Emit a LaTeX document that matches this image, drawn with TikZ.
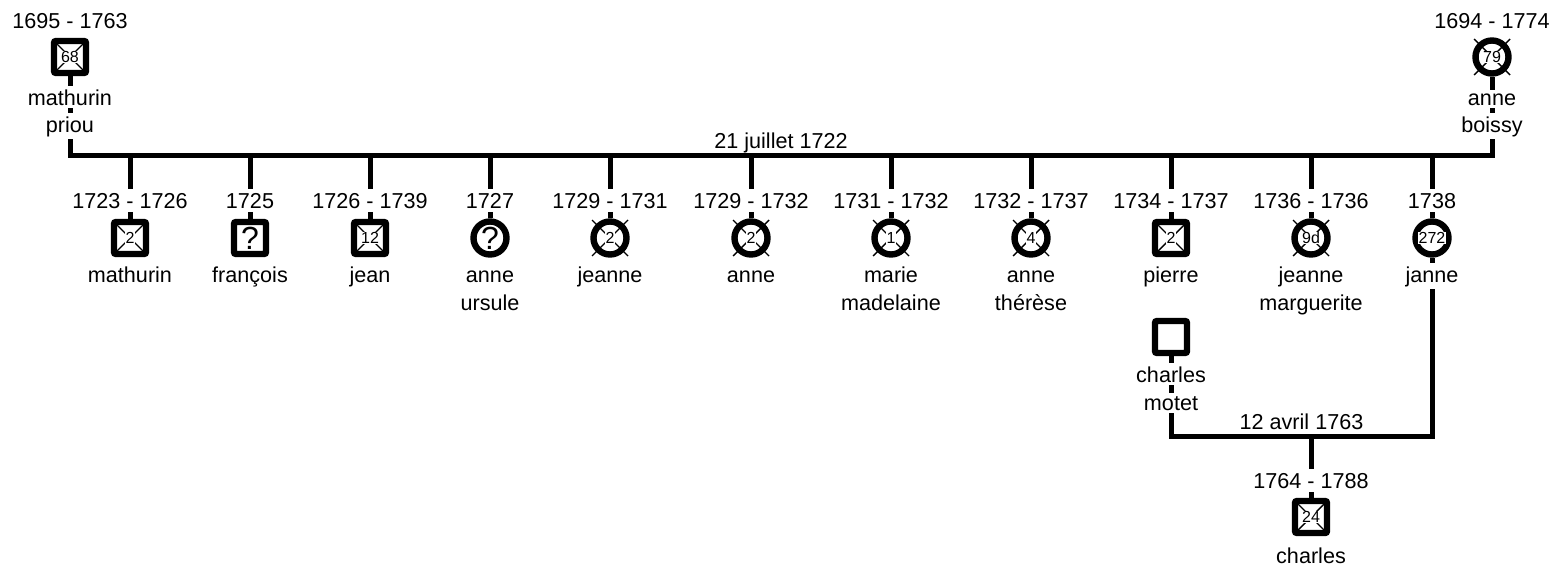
\documentclass[tikz,border=0pt]{standalone}
\usepackage{fontspec}
\setmainfont{Liberation Sans}
\usetikzlibrary{calc}
\pgfdeclarelayer{background}
\pgfsetlayers{background,main}

\begin{document}
\begin{tikzpicture}[x=0.5pt, y=-0.5pt,
    link/.style={line width=2.5pt},
    homem/.style={draw, line width=3.2pt, rectangle, rounded corners=1pt, minimum size=16pt, inner sep=0pt},
    mulher/.style={draw, line width=3.2pt, circle, minimum size=16.5pt, inner sep=0pt},
    idade/.style={fill=white, inner sep=0.3pt, font=\fontsize{8}{9}\selectfont},
    duvida/.style={inner sep=0pt, font=\fontsize{16}{17}\selectfont},
    cruz/.style={line width=0.7pt},
    ano/.style={fill=white, inner sep=2pt, anchor=base, font=\fontsize{10.8}{12}\selectfont},
    nome/.style={fill=white, inner sep=1.5pt, anchor=base, font=\fontsize{10.8}{12}\selectfont},
    uniao/.style={inner sep=0pt, anchor=base, font=\fontsize{10.8}{12}\selectfont}]

    \useasboundingbox (0,0) rectangle (1554,568);

    % --- PAIS (mathurin priou e anne boissy) ---
    \node[homem, label={[idade]center:68}] (p0) at (70,57) {};
    \node[mulher, label={[idade]center:79}] (p1) at (1492,57) {};

    % --- FILHOS DO PRIMEIRO CASAMENTO ---
    \node[homem, label={[idade]center:2}] (c1) at (130,238) {};
    \node[homem, label={[duvida]center:?}] (c2) at (250,238) {};
    \node[homem, label={[idade]center:12}] (c3) at (370,238) {};
    \node[mulher, label={[duvida]center:?}] (c4) at (490,238) {};
    \node[mulher, label={[idade]center:2}] (c5) at (610,238) {};
    \node[mulher, label={[idade]center:2}] (c6) at (751,238) {};
    \node[mulher, label={[idade]center:1}] (c7) at (891,238) {};
    \node[mulher, label={[idade]center:4}] (c8) at (1031,238) {};
    \node[homem, label={[idade]center:2}] (c9) at (1171,238) {};
    \node[mulher, label={[idade]center:9d}] (c10) at (1311,238) {};
    \node[mulher, label={[idade]center:272}] (c11) at (1432,238) {};

    % --- CONJUGE DE janne E FILHO ---
    \node[homem] (s1) at (1171,337) {};
    \node[homem, label={[idade]center:24}] (c12) at (1311,517) {};

    % Cruzes dos falecidos (atras dos simbolos)
    \begin{pgfonlayer}{background}
    \foreach \n in {p0,c1,c3,c9,c12}
        \draw[cruz] ($(\n)+(-16,-16)$) -- ($(\n)+(16,16)$) ($(\n)+(-16,16)$) -- ($(\n)+(16,-16)$);
    \foreach \n in {p1,c5,c6,c7,c8,c10}
        \draw[cruz] ($(\n)+(-18,-18)$) -- ($(\n)+(18,18)$) ($(\n)+(-18,18)$) -- ($(\n)+(18,-18)$);
    \end{pgfonlayer}

    % --- LIGACOES ---
    \coordinate (u1) at (781,155);
    \coordinate (u2) at (1301.5,436);
    \draw[link] (p0) |- (u1) -| (p1);
    \foreach \c in {c1,c2,c3,c4,c5,c6,c7,c8,c9,c10,c11}
        \draw[link] (\c) -- (\c |- u1);
    \draw[link] (s1) |- (u2) -| (c11);
    \draw[link] (c12) -- (c12 |- u2);

    \node[uniao] (l1) at (781,148) {21 juillet 1722};
    \node[uniao] (l2) at (1301.5,429) {12 avril 1763};

    % --- DATAS ---
    \node[ano] (d0) at (70,28) {1695 - 1763};
    \node[ano] (d1) at (1492,28) {1694 - 1774};
    \node[ano] (e1) at (130,208) {1723 - 1726};
    \node[ano] (e2) at (250,208) {1725};
    \node[ano] (e3) at (370,208) {1726 - 1739};
    \node[ano] (e4) at (490,208) {1727};
    \node[ano] (e5) at (610,208) {1729 - 1731};
    \node[ano] (e6) at (751,208) {1729 - 1732};
    \node[ano] (e7) at (891,208) {1731 - 1732};
    \node[ano] (e8) at (1031,208) {1732 - 1737};
    \node[ano] (e9) at (1171,208) {1734 - 1737};
    \node[ano] (e10) at (1311,208) {1736 - 1736};
    \node[ano] (e11) at (1432,208) {1738};
    \node[ano] (e12) at (1311,488) {1764 - 1788};

    % --- NOMES ---
    \node[nome] (n0a) at (70,105) {mathurin};
    \node[nome] (n0b) at (70,132) {priou};
    \node[nome] (n1a) at (1492,105) {anne};
    \node[nome] (n1b) at (1492,132) {boissy};
    \node[nome] (m1) at (130,282) {mathurin};
    \node[nome] (m2) at (250,282) {françois};
    \node[nome] (m3) at (370,282) {jean};
    \node[nome] (m4a) at (490,282) {anne};
    \node[nome] (m4b) at (490,310) {ursule};
    \node[nome] (m5) at (610,282) {jeanne};
    \node[nome] (m6) at (751,282) {anne};
    \node[nome] (m7a) at (891,282) {marie};
    \node[nome] (m7b) at (891,310) {madelaine};
    \node[nome] (m8a) at (1031,282) {anne};
    \node[nome] (m8b) at (1031,310) {thérèse};
    \node[nome] (m9) at (1171,282) {pierre};
    \node[nome] (m10a) at (1311,282) {jeanne};
    \node[nome] (m10b) at (1311,310) {marguerite};
    \node[nome] (m11) at (1432,282) {janne};
    \node[nome] (s1a) at (1171,382) {charles};
    \node[nome] (s1b) at (1171,410) {motet};
    \node[nome] (m12) at (1311,563) {charles};

\end{tikzpicture}
\end{document}
